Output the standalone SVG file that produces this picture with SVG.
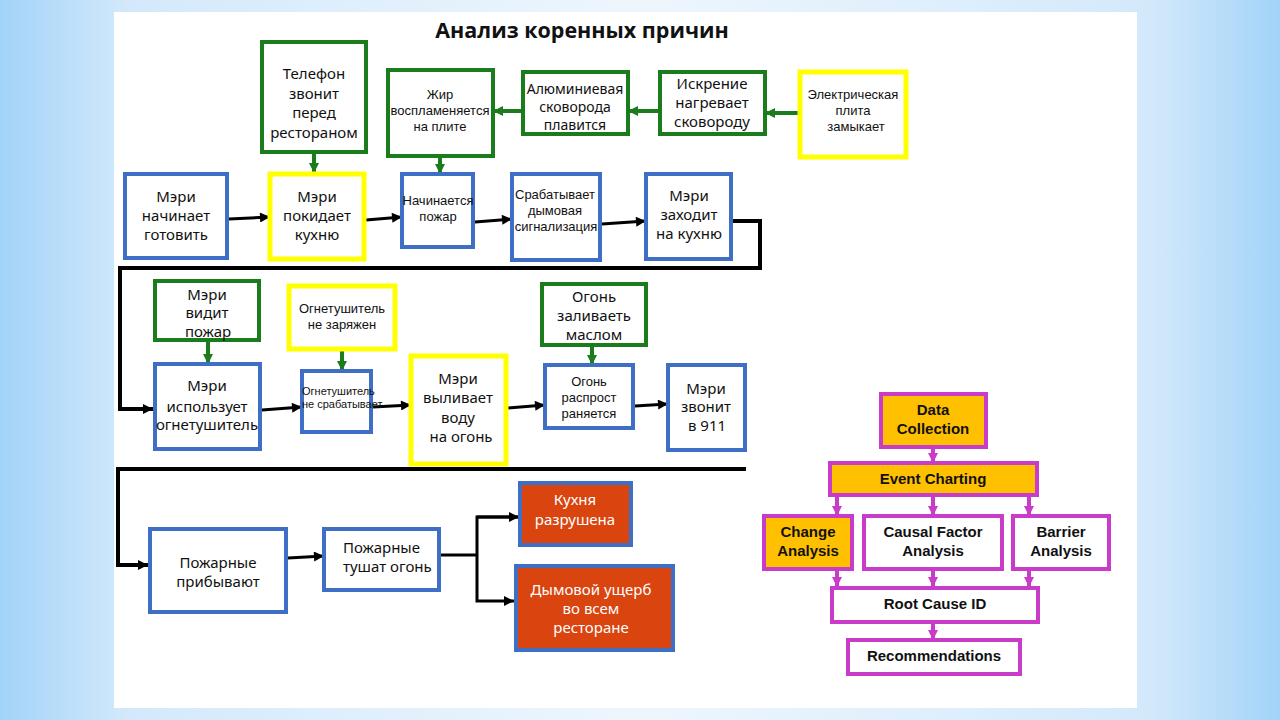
<svg xmlns="http://www.w3.org/2000/svg" width="1280" height="720" viewBox="0 0 1280 720">
<defs>
<linearGradient id="bg" x1="0" y1="0" x2="1" y2="0">
<stop offset="0" stop-color="#a2d3f8"/>
<stop offset="0.1" stop-color="#d3e9fb"/>
<stop offset="0.5" stop-color="#eef6fd"/>
<stop offset="0.9" stop-color="#d3e9fb"/>
<stop offset="1" stop-color="#a2d3f8"/>
</linearGradient>
<marker id="ab" viewBox="0 0 10 10" refX="10" refY="5" markerWidth="11" markerHeight="10" markerUnits="userSpaceOnUse" orient="auto"><path d="M0,0 L10,5 L0,10 z" fill="#000"/></marker>
<marker id="ag" viewBox="0 0 10 10" refX="10" refY="5" markerWidth="10" markerHeight="12" markerUnits="userSpaceOnUse" orient="auto"><path d="M0,0 L10,5 L0,10 z" fill="#1b7c1b"/></marker>
<marker id="am" viewBox="0 0 10 10" refX="10" refY="5" markerWidth="10" markerHeight="12" markerUnits="userSpaceOnUse" orient="auto"><path d="M0,0 L10,5 L0,10 z" fill="#c93bc9"/></marker>
<style>
.blue{fill:#fff;stroke:#3f6fc4;stroke-width:4}
.green{fill:#fff;stroke:#1b7c1b;stroke-width:4}
.yellow{fill:#fff;stroke:#ffff00;stroke-width:5}
.red{fill:#d9440f;stroke:#3f6fc4;stroke-width:4}
.mo{fill:#ffc000;stroke:#c93bc9;stroke-width:4}
.mw{fill:#fff;stroke:#c93bc9;stroke-width:4}
.t16{font-family:"Noto Sans","DejaVu Sans",sans-serif;font-size:15px;text-anchor:middle;fill:#111}
.t15{font-family:"Noto Sans","DejaVu Sans",sans-serif;font-size:14px;text-anchor:middle;fill:#111}
.t13{font-family:"Liberation Sans",Arial,sans-serif;font-size:13px;text-anchor:middle;fill:#111}
.t11{font-family:"Liberation Sans",Arial,sans-serif;font-size:11px;fill:#111}
.wt{fill:#fff}
.en{font-family:"Liberation Sans",Arial,sans-serif;font-weight:bold;font-size:15px;text-anchor:middle;fill:#111}
.title{font-family:"Open Sans","Noto Sans",sans-serif;font-weight:bold;font-size:21.5px;text-anchor:middle;fill:#111}
.cb{fill:none;stroke:#000;stroke-width:3}
.cl{fill:none;stroke:#000;stroke-width:4}
.cg{fill:none;stroke:#1b7c1b;stroke-width:4}
.cm{fill:none;stroke:#c93bc9;stroke-width:4}
</style>
</defs>
<rect x="0" y="0" width="1280" height="720" fill="url(#bg)"/>
<rect x="114" y="12" width="1023" height="696" fill="#fff"/>
<text class="title" x="582" y="38">Анализ коренных причин</text>

<g id="connectors">
<polyline class="cg" points="800,113 765,113" marker-end="url(#ag)"/>
<polyline class="cg" points="660,111 628,111" marker-end="url(#ag)"/>
<polyline class="cg" points="523,111 493,111" marker-end="url(#ag)"/>
<polyline class="cg" points="314,152 314,173" marker-end="url(#ag)"/>
<polyline class="cg" points="440,156 440,174" marker-end="url(#ag)"/>
<polyline class="cb" points="229,219 270,217" marker-end="url(#ab)"/>
<polyline class="cb" points="366,220 402,217" marker-end="url(#ab)"/>
<polyline class="cb" points="475,222 512,219" marker-end="url(#ab)"/>
<polyline class="cb" points="602,224 646,221" marker-end="url(#ab)"/>
<polyline class="cl" points="733,221 760,221 760,268 120,268 120,409 153,409" marker-end="url(#ab)"/>
<polyline class="cg" points="208,340 208,364" marker-end="url(#ag)"/>
<polyline class="cg" points="342,349 342,371" marker-end="url(#ag)"/>
<polyline class="cg" points="592,345 592,365" marker-end="url(#ag)"/>
<polyline class="cb" points="262,410 302,407" marker-end="url(#ab)"/>
<polyline class="cb" points="373,407 411,405" marker-end="url(#ab)"/>
<polyline class="cb" points="508,408 545,405" marker-end="url(#ab)"/>
<polyline class="cb" points="635,406 668,404" marker-end="url(#ab)"/>
<polyline class="cl" points="746,469 118,469 118,565 148,565" marker-end="url(#ab)"/>
<polyline class="cb" points="288,558 324,556" marker-end="url(#ab)"/>
<polyline class="cb" points="441,555 477,555"/>
<polyline class="cb" points="519,517 477,517 477,601 514,601" marker-end="url(#ab)"/>
<polyline class="cb" points="477,517 519,517" marker-end="url(#ab)"/>
<polyline class="cm" points="933,448 933,463" marker-end="url(#am)"/>
<polyline class="cm" points="837,496 837,516" marker-end="url(#am)"/>
<polyline class="cm" points="933,496 933,516" marker-end="url(#am)"/>
<polyline class="cm" points="1029,496 1029,516" marker-end="url(#am)"/>
<polyline class="cm" points="837,570 837,587" marker-end="url(#am)"/>
<polyline class="cm" points="933,570 933,587" marker-end="url(#am)"/>
<polyline class="cm" points="1029,570 1029,587" marker-end="url(#am)"/>
<polyline class="cm" points="933,623 933,640" marker-end="url(#am)"/>
</g>

<g id="n-telefon"><rect class="green" x="262" y="42" width="104" height="110"/>
<text class="t16"><tspan x="314" y="79">Телефон</tspan><tspan x="314" y="99">звонит</tspan><tspan x="314" y="118">перед</tspan><tspan x="314" y="138">рестор&#1072;ном</tspan></text></g>
<g id="n-zhir"><rect class="green" x="388" y="70" width="105" height="86"/>
<text class="t13"><tspan x="440" y="99">Жир</tspan><tspan x="440" y="115">воспламеняется</tspan><tspan x="440" y="131">на плите</tspan></text></g>
<g id="n-alum"><rect class="green" x="523" y="72" width="105" height="62"/>
<text class="t15"><tspan x="575" y="94">Алюминиевая</tspan><tspan x="575" y="112">сковорода</tspan><tspan x="575" y="130">плавится</tspan></text></g>
<g id="n-iskr"><rect class="green" x="660" y="72" width="105" height="62"/>
<text class="t16"><tspan x="712" y="89">Искрение</tspan><tspan x="712" y="108">нагревает</tspan><tspan x="712" y="127">сковороду</tspan></text></g>
<g id="n-plita"><rect class="yellow" x="800" y="72" width="106" height="85"/>
<text class="t13"><tspan x="853" y="99">Электрическая</tspan><tspan x="853" y="115">плита</tspan><tspan x="856" y="131">замыкает</tspan></text></g>

<g id="n-gotovit"><rect class="blue" x="125" y="174" width="102" height="84"/>
<text class="t16"><tspan x="176" y="202">Мэри</tspan><tspan x="176" y="221">начинает</tspan><tspan x="176" y="240">готовить</tspan></text></g>
<g id="n-pokidaet"><rect class="yellow" x="270" y="174" width="94" height="85"/>
<text class="t16"><tspan x="317" y="202">Мэри</tspan><tspan x="317" y="221">покидает</tspan><tspan x="317" y="240">кухню</tspan></text></g>
<g id="n-pozhar"><rect class="blue" x="402" y="174" width="71" height="73"/>
<text class="t13"><tspan x="438" y="205">Начинается</tspan><tspan x="438" y="221">пожар</tspan></text></g>
<g id="n-signal"><rect class="blue" x="512" y="174" width="88" height="86"/>
<text class="t13"><tspan x="555" y="199">Срабатывает</tspan><tspan x="555" y="215">дымовая</tspan><tspan x="556" y="231">сигнализация</tspan></text></g>
<g id="n-zahodit"><rect class="blue" x="646" y="174" width="85" height="85"/>
<text class="t16"><tspan x="689" y="201">Мэри</tspan><tspan x="689" y="220">заходит</tspan><tspan x="689" y="239">на кухню</tspan></text></g>

<g id="n-vidit"><rect class="green" x="155" y="281" width="104" height="59"/>
<text class="t16"><tspan x="207" y="300">Мэри</tspan><tspan x="207" y="318">видит</tspan><tspan x="208" y="337">пожар</tspan></text></g>
<g id="n-nezaryazhen"><rect class="yellow" x="289" y="286" width="106" height="63"/>
<text class="t13"><tspan x="342" y="313">Огнетушитель</tspan><tspan x="342" y="329">не заряжен</tspan></text></g>
<g id="n-maslo"><rect class="green" x="542" y="284" width="104" height="61"/>
<text class="t16"><tspan x="594" y="302">Огонь</tspan><tspan x="594" y="321">заливаеть</tspan><tspan x="594" y="340">маслом</tspan></text></g>

<g id="n-ispolzuet"><rect class="blue" x="155" y="364" width="105" height="85"/>
<text class="t16"><tspan x="207" y="391">Мэри</tspan><tspan x="207" y="412">использует</tspan><tspan x="207" y="430">огнетушитель</tspan></text></g>
<g id="n-nesrab"><rect class="blue" x="302" y="371" width="69" height="61"/>
<text class="t11"><tspan x="302" y="395">Огнетушитель</tspan><tspan x="302" y="408">не срабатывает</tspan></text></g>
<g id="n-vylivaet"><rect class="yellow" x="411" y="356" width="95" height="108"/>
<text class="t16"><tspan x="458" y="384">Мэри</tspan><tspan x="458" y="403">выливает</tspan><tspan x="458" y="423">воду</tspan><tspan x="461" y="442">на огонь</tspan></text></g>
<g id="n-rasprost"><rect class="blue" x="545" y="365" width="88" height="63"/>
<text class="t13"><tspan x="589" y="386">Огонь</tspan><tspan x="589" y="402">распрост</tspan><tspan x="589" y="418">раняется</tspan></text></g>
<g id="n-911"><rect class="blue" x="668" y="365" width="77" height="85"/>
<text class="t16"><tspan x="706" y="394">Мэри</tspan><tspan x="706" y="412">звонит</tspan><tspan x="707" y="431">в 911</tspan></text></g>

<g id="n-pribyvayut"><rect class="blue" x="150" y="529" width="136" height="83"/>
<text class="t16"><tspan x="218" y="568">Пожарные</tspan><tspan x="218" y="587">прибывают</tspan></text></g>
<g id="n-tushat"><rect class="blue" x="324" y="529" width="115" height="61"/>
<text class="t16" style="text-anchor:start"><tspan x="343" y="553">Пожарные</tspan><tspan x="343" y="572">тушат огонь</tspan></text></g>
<g id="n-kuhnya"><rect class="red" x="520" y="483" width="111" height="62"/>
<text class="t16 wt"><tspan x="575" y="505">Кухня</tspan><tspan x="575" y="525">разрушена</tspan></text></g>
<g id="n-dym"><rect class="red" x="516" y="566" width="157" height="84"/>
<text class="t16 wt"><tspan x="591" y="595">Дымовой ущерб</tspan><tspan x="591" y="614">во всем</tspan><tspan x="591" y="633">ресторане</tspan></text></g>

<g id="n-data"><rect class="mo" x="881" y="394" width="105" height="53"/>
<text class="en"><tspan x="933" y="415">Data</tspan><tspan x="933" y="434">Collection</tspan></text></g>
<g id="n-event"><rect class="mo" x="830" y="463" width="207" height="32"/>
<text class="en" x="933" y="484">Event Charting</text></g>
<g id="n-change"><rect class="mo" x="764" y="516" width="88" height="53"/>
<text class="en"><tspan x="808" y="537">Change</tspan><tspan x="808" y="556">Analysis</tspan></text></g>
<g id="n-causal"><rect class="mw" x="864" y="516" width="138" height="53"/>
<text class="en"><tspan x="933" y="537">Causal Factor</tspan><tspan x="933" y="556">Analysis</tspan></text></g>
<g id="n-barrier"><rect class="mw" x="1013" y="516" width="96" height="53"/>
<text class="en"><tspan x="1061" y="537">Barrier</tspan><tspan x="1061" y="556">Analysis</tspan></text></g>
<g id="n-root"><rect class="mw" x="832" y="588" width="206" height="34"/>
<text class="en" x="935" y="609">Root Cause ID</text></g>
<g id="n-recom"><rect class="mw" x="848" y="640" width="172" height="34"/>
<text class="en" x="934" y="661">Recommendations</text></g>
</svg>
